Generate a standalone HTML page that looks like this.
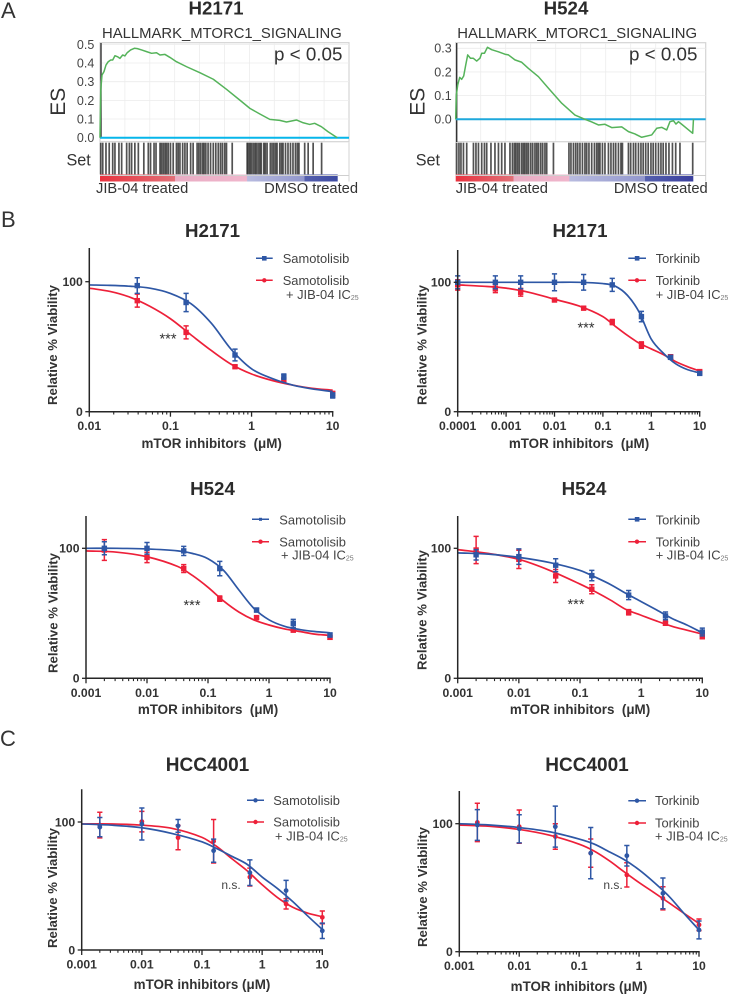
<!DOCTYPE html>
<html lang="en">
<head>
<meta charset="utf-8">
<title>mTOR inhibitor figure</title>
<style>
html,body{margin:0;padding:0;background:#fff;width:729px;height:994px;overflow:hidden}
svg{display:block;font-family:"Liberation Sans",Arial,sans-serif}
.panel-letter{font-size:22px;fill:#333}
.title{font-size:18.7px;font-weight:bold;fill:#2b2b2b;text-anchor:middle}
.geneset{font-size:14.85px;fill:#333}
.pval{font-size:18.8px;fill:#333}
.es{font-size:21px;fill:#333;text-anchor:middle}
.setl{font-size:16.2px;fill:#333}
.end{font-size:14.7px;fill:#333}
.xt{font-size:13.4px;font-weight:bold;fill:#333;text-anchor:middle}
.yt{font-size:13.2px;font-weight:bold;fill:#333;text-anchor:middle}
.leg{font-size:12.9px;fill:#444}
.sub{font-size:7px;fill:#777}
.star{font-size:14.5px;fill:#333;text-anchor:middle}
.ns{font-size:12px;fill:#444;text-anchor:middle}
</style>
</head>
<body>
<svg id="figure" xmlns="http://www.w3.org/2000/svg" width="729" height="994" viewBox="0 0 729 994">
<defs>
<linearGradient id="rankA1"><stop offset="0" stop-color="#e8323e"/><stop offset=".316" stop-color="#e27078"/><stop offset=".316" stop-color="#e9adc4"/><stop offset=".617" stop-color="#f0b6cc"/><stop offset=".62" stop-color="#b8bbdf"/><stop offset=".86" stop-color="#9297cd"/><stop offset=".86" stop-color="#5560ae"/><stop offset="1" stop-color="#3d4aa2"/></linearGradient>
<linearGradient id="rankA2"><stop offset="0" stop-color="#e8323e"/><stop offset=".243" stop-color="#e27078"/><stop offset=".243" stop-color="#e9adc4"/><stop offset=".477" stop-color="#f0b6cc"/><stop offset=".48" stop-color="#b8bbdf"/><stop offset=".797" stop-color="#9297cd"/><stop offset=".797" stop-color="#5560ae"/><stop offset="1" stop-color="#3a3f9e"/></linearGradient>
</defs>

<text class="panel-letter" x="1" y="18">A</text>
<text class="panel-letter" x="1" y="227">B</text>
<text class="panel-letter" x="0" y="746">C</text>

<!-- GSEA H2171 -->
<g id="gseaA1">
<text class="title" x="216" y="14.5">H2171</text>
<text class="geneset" x="102" y="38">HALLMARK_MTORC1_SIGNALING</text>
<text class="es" transform="translate(65,101.7) rotate(-90)">ES</text>
<text class="setl" x="66.5" y="165.7">Set</text>
<rect x="100" y="174.5" width="237.7" height="7" fill="url(#rankA1)"/>
<text class="end" x="96" y="193">JIB-04 treated</text>
<text class="end" x="358" y="193" text-anchor="end">DMSO treated</text>
</g>

<!-- GSEA H524 -->
<g id="gseaA2">
<text class="title" x="566" y="14.5">H524</text>
<text class="geneset" x="457.3" y="38">HALLMARK_MTORC1_SIGNALING</text>
<text class="es" transform="translate(424.3,101.7) rotate(-90)">ES</text>
<text class="setl" x="415.7" y="165.7">Set</text>
<rect x="455.7" y="174.5" width="237.6" height="7" fill="url(#rankA2)"/>
<text class="end" x="455.7" y="193">JIB-04 treated</text>
<text class="end" x="707.7" y="193" text-anchor="end">DMSO treated</text>
</g>

<!-- B1 -->
<g id="b1">
<text class="title" x="212.5" y="237">H2171</text>
<text class="yt" transform="translate(57,345) rotate(-90)">Relative % Viability</text>
<text class="xt" x="211.7" y="448" xml:space="preserve">mTOR inhibitors  (μM)</text>
<g>
<line x1="256" x2="272.7" y1="258.3" y2="258.3" stroke="#2e57a5" stroke-width="1.5"/>
<rect x="262" y="256" width="4.6" height="4.6" fill="#2e57a5"/>
<text class="leg" x="282.7" y="263">Samotolisib</text>
<line x1="256" x2="272.7" y1="280.3" y2="280.3" stroke="#ed2039" stroke-width="1.5"/>
<circle cx="264.3" cy="280.3" r="2.2" fill="#ed2039"/>
<text class="leg" x="282.7" y="285">Samotolisib</text>
<text class="leg" x="286" y="299">+ JIB-04 IC<tspan class="sub" dy="1">25</tspan></text>
</g>
<text class="star" x="168" y="343.5">***</text>
</g>

<!-- B2 -->
<g id="b2">
<text class="title" x="580" y="237">H2171</text>
<text class="yt" transform="translate(426.7,345) rotate(-90)">Relative % Viability</text>
<text class="xt" x="579" y="448" xml:space="preserve">mTOR inhibitors  (μM)</text>
<g>
<line x1="628.3" x2="646" y1="258.3" y2="258.3" stroke="#2e57a5" stroke-width="1.5"/>
<rect x="634.8" y="256" width="4.6" height="4.6" fill="#2e57a5"/>
<text class="leg" x="655.7" y="263">Torkinib</text>
<line x1="628.3" x2="646" y1="280.3" y2="280.3" stroke="#ed2039" stroke-width="1.5"/>
<circle cx="637" cy="280.3" r="2.2" fill="#ed2039"/>
<text class="leg" x="655.7" y="285">Torkinib</text>
<text class="leg" x="655.7" y="299">+ JIB-04 IC<tspan class="sub" dy="1">25</tspan></text>
</g>
<text class="star" x="586" y="332.5">***</text>
</g>

<!-- B3 -->
<g id="b3">
<text class="title" x="212.5" y="495">H524</text>
<text class="yt" transform="translate(57.3,613) rotate(-90)">Relative % Viability</text>
<text class="xt" x="208" y="714" xml:space="preserve">mTOR inhibitors  (μM)</text>
<g>
<line x1="252" x2="269" y1="519.3" y2="519.3" stroke="#2e57a5" stroke-width="1.5"/>
<rect x="259" y="517.8" width="3" height="3" fill="#2e57a5"/>
<text class="leg" x="279.3" y="524.3">Samotolisib</text>
<line x1="252" x2="269" y1="541.7" y2="541.7" stroke="#ed2039" stroke-width="1.5"/>
<circle cx="260.5" cy="541.7" r="2.2" fill="#ed2039"/>
<text class="leg" x="279.3" y="546.3">Samotolisib</text>
<text class="leg" x="281" y="559.3">+ JIB-04 IC<tspan class="sub" dy="1">25</tspan></text>
</g>
<text class="star" x="192" y="610">***</text>
</g>

<!-- B4 -->
<g id="b4">
<text class="title" x="584" y="495">H524</text>
<text class="yt" transform="translate(426.7,610) rotate(-90)">Relative % Viability</text>
<text class="xt" x="580" y="714" xml:space="preserve">mTOR inhibitors  (μM)</text>
<g>
<line x1="628.3" x2="646" y1="519.3" y2="519.3" stroke="#2e57a5" stroke-width="1.5"/>
<rect x="634.8" y="517" width="4.6" height="4.6" fill="#2e57a5"/>
<text class="leg" x="655.7" y="524.3">Torkinib</text>
<line x1="628.3" x2="646" y1="541.7" y2="541.7" stroke="#ed2039" stroke-width="1.5"/>
<circle cx="637" cy="541.7" r="2.2" fill="#ed2039"/>
<text class="leg" x="655.7" y="546.3">Torkinib</text>
<text class="leg" x="655.7" y="559.3">+ JIB-04 IC<tspan class="sub" dy="1">25</tspan></text>
</g>
<text class="star" x="576" y="609">***</text>
</g>

<!-- C1 -->
<g id="c1">
<text class="title" x="207.5" y="771" style="font-size:19px">HCC4001</text>
<text class="yt" transform="translate(57,888) rotate(-90)">Relative % Viability</text>
<text class="xt" x="202" y="989">mTOR inhibitors (μM)</text>
<g>
<line x1="247" x2="264" y1="800.3" y2="800.3" stroke="#2e57a5" stroke-width="1.5"/>
<circle cx="255.5" cy="800.3" r="2.2" fill="#2e57a5"/>
<text class="leg" x="273.3" y="805">Samotolisib</text>
<line x1="247" x2="264" y1="822" y2="822" stroke="#ed2039" stroke-width="1.5"/>
<circle cx="255.5" cy="822" r="2.2" fill="#ed2039"/>
<text class="leg" x="273.3" y="826.7">Samotolisib</text>
<text class="leg" x="275" y="840.7">+ JIB-04 IC<tspan class="sub" dy="1">25</tspan></text>
</g>
<text class="ns" x="231" y="889">n.s.</text>
</g>

<!-- C2 -->
<g id="c2">
<text class="title" x="587" y="771" style="font-size:19px">HCC4001</text>
<text class="yt" transform="translate(427,887) rotate(-90)">Relative % Viability</text>
<text class="xt" x="579" y="991">mTOR inhibitors (μM)</text>
<g>
<line x1="628.3" x2="646" y1="800.7" y2="800.7" stroke="#2e57a5" stroke-width="1.5"/>
<circle cx="637" cy="800.7" r="2.2" fill="#2e57a5"/>
<text class="leg" x="655" y="805">Torkinib</text>
<line x1="628.3" x2="646" y1="823" y2="823" stroke="#ed2039" stroke-width="1.5"/>
<circle cx="637" cy="823" r="2.2" fill="#ed2039"/>
<text class="leg" x="655" y="827.7">Torkinib</text>
<text class="leg" x="655" y="840.7">+ JIB-04 IC<tspan class="sub" dy="1">25</tspan></text>
</g>
<text class="ns" x="613" y="889">n.s.</text>
</g>
</svg>

<script>
/* ---------- GSEA data ---------- */
var a1EsTicks = [0, 0.1, 0.2, 0.3, 0.4, 0.5];
var a1EsRanks = [0,0.3,0.8,1.6,2.4,3.3,4.3,5.1,6,7,8,9.1,10,10.9,12.3,13.8,15,16.7,18.7,20.7,22.7,24.1,26.1,28.1,30.7,34.8,40.1,45.5,50.8,56.1,60.2,64.2,68.2,72.2,74.9,78.9,81.6,84.2,86.2,88.9,91.6,95.3];
var a1EsValues = [0,0.255,0.336,0.354,0.389,0.407,0.416,0.416,0.439,0.434,0.425,0.443,0.438,0.455,0.470,0.479,0.477,0.470,0.461,0.452,0.455,0.443,0.446,0.430,0.407,0.380,0.348,0.313,0.259,0.202,0.157,0.127,0.098,0.093,0.084,0.095,0.080,0.071,0.077,0.059,0.032,0];
var a1Hits = [0.3,1.1,2.4,3.7,5.1,6,7.6,8.7,10.7,11.8,12.7,14,15.4,17.6,19.4,20.3,21.7,22.5,24.1,24.7,25.4,26.1,26.7,27.4,28.3,29.4,30.7,31.4,32.1,33.2,34.1,35,36.4,37.4,39,39.7,40.4,41.2,41.8,42.5,43.4,44.4,45.5,46.5,47.5,48.4,49.2,50.1,50.8,53.1,59.1,59.6,60.2,60.8,61.5,62.2,62.8,63.5,64.2,64.8,65.8,66.4,67.1,68.4,69.1,69.8,70.5,71.1,72.2,72.9,73.5,74.5,75.5,76.5,77.5,78.5,79.3,79.9,82.2,83.6,85.6,89];

var a2EsTicks = [0, 0.1, 0.2, 0.3];
var a2EsRanks = [0,0.27,0.8,1.6,2.4,3.2,4,4.8,5.9,7,8.4,9.7,10.4,11.5,12.7,14.4,17.1,19.7,21.1,23.7,26.4,29.1,33.1,37.1,42.4,47.7,51.7,54.4,57.1,59.7,62.4,66.4,69.1,71.7,74.4,78.4,80.4,82.4,84.4,85.7,87.1,88.1,89.1,90.4,94.8,95.1];
var a2EsValues = [0,0.103,0.145,0.177,0.169,0.183,0.229,0.272,0.258,0.258,0.246,0.258,0.279,0.279,0.304,0.294,0.285,0.275,0.272,0.251,0.241,0.215,0.180,0.131,0.068,0.018,0,-0.011,-0.024,-0.021,-0.035,-0.032,-0.052,-0.062,-0.076,-0.066,-0.038,-0.034,-0.045,-0.010,-0.006,-0.020,-0.010,-0.021,-0.059,0];
var a2Hits = [0.4,1.3,2.1,3.1,4.4,7.1,8.1,9.1,10.4,11.5,12.4,14.1,15.7,17.1,18.4,19.7,21.7,22.7,23.5,24.1,24.8,25.5,26.4,27.1,27.7,28.4,29.1,30,30.8,31.7,32.4,33.1,34,34.8,35.7,36.4,39.1,45.3,46.1,47.1,48,48.8,49.7,50.7,51.7,52.4,53.3,54.4,55.5,56.4,57.1,57.7,58.7,59.7,61.1,62.1,63.1,64,65.1,66.1,66.7,69.1,70,71.1,72,73.1,74.1,75,76,77,78.1,79,80,81.1,82.1,83,84.1,85.3,86.7,88,89.7,94.8];

/* ---------- Dose-response data: B1 H2171 samotolisib ---------- */
var b1XTicks = [0.01, 0.1, 1, 10];
var b1XLabels = ['0.01', '0.1', '1', '10'];
var b1Doses = [0.039, 0.156, 0.625, 2.5, 10];
var b1BlueMeans = [97, 84, 43.6, 27, 12.5];
var b1BlueErrs = [6, 7, 4.5, 2, 2];
var b1RedMeans = [85.4, 61, 34.6, 24.5, 14];
var b1RedErrs = [5, 5, 1, 1, 1.5];
var b1CurveDoses = [0.01,0.018,0.032,0.056,0.1,0.18,0.32,0.56,1,1.8,3.2,5.6,10];
var b1BlueCurve = [97.5,97.2,96.5,95,91,83,68,48,33,25.5,20.5,17.5,15.5];
var b1RedCurve = [95,92.5,88,81,71.5,59,47,36.5,29,24,20.5,18,16.5];

/* B2 H2171 torkinib */
var b2XTicks = [0.0001, 0.001, 0.01, 0.1, 1, 10];
var b2XLabels = ['0.0001', '0.001', '0.01', '0.1', '1', '10'];
var b2Doses = [0.0001, 0.0006, 0.002, 0.01, 0.04, 0.156, 0.625, 2.5, 10];
var b2BlueMeans = [100, 100, 100, 100, 100, 98, 73.5, 42, 29.6];
var b2BlueErrs = [5, 5, 5, 6.5, 6, 5, 4, 1.5, 1];
var b2RedMeans = [98, 95, 92.3, 86.3, 80, 69.3, 51.5, 42.5, 31];
var b2RedErrs = [4, 3, 3, 1, 0.8, 2, 2.5, 1.5, 1];
var b2CurveDoses = [0.0001,0.00032,0.001,0.0032,0.01,0.032,0.1,0.18,0.32,0.56,1,1.8,3.2,5.6,10];
var b2BlueCurve = [100,100,100,100,100,100,99,97,90,77,56,45,37,32.5,30];
var b2RedCurve = [98,97,95.5,92,86.9,81.7,73.5,66,59,53,48.5,44,38.7,34.8,31.4];

/* B3 H524 samotolisib */
var b3XTicks = [0.001, 0.01, 0.1, 1, 10];
var b3XLabels = ['0.001', '0.01', '0.1', '1', '10'];
var b3Doses = [0.002, 0.01, 0.04, 0.156, 0.625, 2.5, 10];
var b3BlueMeans = [100, 100, 98, 84.4, 52.5, 42.3, 33.3];
var b3BlueErrs = [5, 4.5, 3.5, 5.5, 1.5, 3, 1.5];
var b3RedMeans = [98.7, 93, 84.4, 61.3, 46.7, 37, 31.5];
var b3RedErrs = [8, 4, 3, 2, 1, 1, 1.5];
var b3CurveDoses = [0.001,0.0032,0.01,0.032,0.056,0.1,0.18,0.32,0.56,1,1.8,3.2,5.6,10];
var b3BlueCurve = [100,100,99.5,98,96,92,83,68,54,45,40,37.5,36,35];
var b3RedCurve = [98,97,93.5,86,79,70,59.5,51,45,41,38,36,34,33];

/* B4 H524 torkinib */
var b4XTicks = [0.001, 0.01, 0.1, 1, 10];
var b4XLabels = ['0.001', '0.01', '0.1', '1', '10'];
var b4Doses = [0.002, 0.01, 0.04, 0.156, 0.625, 2.5, 10];
var b4BlueMeans = [95, 93.6, 87, 79, 64, 48, 35.6];
var b4BlueErrs = [4, 6, 5, 4, 3.5, 3, 3];
var b4RedMeans = [98.7, 91.5, 78.7, 68.5, 50.8, 42.3, 32];
var b4RedErrs = [10.5, 7, 5, 3.5, 2, 1.5, 1.5];
var b4CurveDoses = [0.001,0.0032,0.01,0.032,0.1,0.18,0.32,0.56,1,1.8,3.2,5.6,10];
var b4BlueCurve = [96.5,95.5,93,89,83,77.7,72,65.4,59,52.5,46,41,35];
var b4RedCurve = [99,96,91.5,83,72.5,66.5,60,53,48.5,44,40,37,34];

/* C1 HCC4001 samotolisib */
var c1XTicks = [0.001, 0.01, 0.1, 1, 10];
var c1XLabels = ['0.001', '0.01', '0.1', '1', '10'];
var c1Doses = [0.002, 0.01, 0.04, 0.156, 0.625, 2.5, 10];
var c1BlueMeans = [96, 98.4, 97, 77.6, 60.4, 46.4, 15];
var c1BlueErrs = [7.5, 12.5, 5, 9, 10, 8, 6];
var c1RedMeans = [97.6, 100.3, 87.8, 85, 57, 36, 25.5];
var c1RedErrs = [10, 8, 9.5, 17, 7, 4, 5];
var c1CurveDoses = [0.001,0.0032,0.01,0.032,0.1,0.18,0.32,0.56,1,1.8,3.2,5.6,10];
var c1BlueCurve = [98.5,97.5,95.5,91,84.5,79,73,67,57,48,38,27,16];
var c1RedCurve = [98.5,98.5,97.5,95,88,80.5,71,62,51,41,33.5,29,26];

/* C2 HCC4001 torkinib */
var c2XTicks = [0.001, 0.01, 0.1, 1, 10];
var c2XLabels = ['0.001', '0.01', '0.1', '1', '10'];
var c2Doses = [0.002, 0.01, 0.04, 0.156, 0.625, 2.5, 10];
var c2BlueMeans = [99, 96, 97.7, 77, 75, 45.6, 17];
var c2BlueErrs = [12, 11, 16, 20, 8, 12, 7];
var c2RedMeans = [101, 97.7, 90, 77, 60, 41.7, 21];
var c2RedErrs = [15, 13, 10, 11, 9.5, 9, 4.5];
var c2CurveDoses = [0.001,0.0032,0.01,0.032,0.1,0.18,0.32,0.56,1,1.8,3.2,5.6,10];
var c2BlueCurve = [100,99,97,93.7,88,84,78,72,64,54,43,30,17];
var c2RedCurve = [99,98,95.5,91,84,78.5,71,62.5,54,46,38,30,22];

var yTickValues = [0, 100];
var yTickLabels = ['0', '100'];

/* ---------- helpers ---------- */
var NS = 'http://www.w3.org/2000/svg';
var BLUE = '#2e57a5', RED = '#ed2039', AXIS = '#262626';

function svgEl(tag, parent, attrs) {
  var el = document.createElementNS(NS, tag);
  for (var k in attrs) el.setAttribute(k, attrs[k]);
  parent.appendChild(el);
  return el;
}

/* smooth cubic path through pixel points, central-difference tangents */
function smoothPath(xs, ys) {
  var n = xs.length, m = [], i;
  m.push((ys[1] - ys[0]) / (xs[1] - xs[0]));
  for (i = 1; i < n - 1; i++) m.push((ys[i + 1] - ys[i - 1]) / (xs[i + 1] - xs[i - 1]));
  m.push((ys[n - 1] - ys[n - 2]) / (xs[n - 1] - xs[n - 2]));
  var p = 'M' + xs[0].toFixed(2) + ' ' + ys[0].toFixed(2);
  for (i = 0; i < n - 1; i++) {
    var h = (xs[i + 1] - xs[i]) / 3;
    p += 'C' + (xs[i] + h).toFixed(2) + ' ' + (ys[i] + m[i] * h).toFixed(2) + ' ' +
         (xs[i + 1] - h).toFixed(2) + ' ' + (ys[i + 1] - m[i + 1] * h).toFixed(2) + ' ' +
         xs[i + 1].toFixed(2) + ' ' + ys[i + 1].toFixed(2);
  }
  return p;
}

function drawSeries(g, cfg, xScale, yScale, doses, means, errs, curveDoses, curve, color) {
  var path = svgEl('path', g, {d: smoothPath(curveDoses.map(xScale), curve.map(yScale)), fill: 'none', stroke: color, 'stroke-width': 1.7});
  
  
  doses.forEach(function (dose, i) {
    var x = xScale(dose), y = yScale(means[i]), hi = yScale(means[i] + errs[i]), lo = yScale(means[i] - errs[i]);
    var bar = svgEl('path', g, {d: 'M' + x + ' ' + hi + 'V' + lo + 'M' + (x - 2.6) + ' ' + hi + 'h5.2M' + (x - 2.6) + ' ' + lo + 'h5.2', fill: 'none', stroke: color, 'stroke-width': 1.5});
    
    
    var mark;
    if (cfg.round) {
      mark = svgEl('circle', g, {cx: x, cy: y, r: 2.4, fill: color});
    } else {
      mark = svgEl('rect', g, {x: x - 2.7, y: y - 2.7, width: 5.4, height: 5.4, fill: color});
    }
    
    
  });
}

function drawDose(cfg) {
  var g = document.getElementById(cfg.id);
  var lmin = Math.log10(cfg.xTicks[0]), lmax = Math.log10(cfg.xTicks[cfg.xTicks.length - 1]);
  var xScale = function (v) { return cfg.x0 + (Math.log10(v) - lmin) / (lmax - lmin) * (cfg.x1 - cfg.x0); };
  var yScale = function (v) { return cfg.y0 - v / 100 * (cfg.y0 - cfg.y100); };

  drawSeries(g, cfg, xScale, yScale, cfg.doses, cfg.redMeans, cfg.redErrs, cfg.curveDoses, cfg.redCurve, RED);
  drawSeries(g, cfg, xScale, yScale, cfg.doses, cfg.blueMeans, cfg.blueErrs, cfg.curveDoses, cfg.blueCurve, BLUE);

  var xAxis = svgEl('line', g, {x1: cfg.x0 - 0.7, x2: cfg.x1 + 0.7, y1: cfg.y0, y2: cfg.y0, stroke: AXIS, 'stroke-width': 1.5});
  
  
  var yAxis = svgEl('line', g, {x1: cfg.x0, x2: cfg.x0, y1: cfg.top, y2: cfg.y0 + 0.7, stroke: AXIS, 'stroke-width': 1.5});
  
  

  cfg.xTicks.forEach(function (t, i) {
    var x = xScale(t);
    var tick = svgEl('line', g, {x1: x, x2: x, y1: cfg.y0, y2: cfg.y0 + 5, stroke: AXIS, 'stroke-width': 1.3});
    
    
    var label = svgEl('text', g, {x: x, y: cfg.y0 + 18.5, 'text-anchor': 'middle', 'font-size': 12.2, 'font-weight': 'bold', fill: '#333'});
    label.textContent = cfg.xLabels[i];
    
    
    if (i < cfg.xTicks.length - 1) {
      for (var m = 2; m < 10; m++) {
        var mx = xScale(t * m);
        var minor = svgEl('line', g, {x1: mx, x2: mx, y1: cfg.y0, y2: cfg.y0 + 2.8, stroke: AXIS, 'stroke-width': 1.1});
        
        
      }
    }
  });
  yTickValues.forEach(function (t, i) {
    var y = yScale(t);
    var tick = svgEl('line', g, {x1: cfg.x0 - 4, x2: cfg.x0, y1: y, y2: y, stroke: AXIS, 'stroke-width': 1.3});
    
    
    var label = svgEl('text', g, {x: cfg.x0 - 6.5, y: y + 4.3, 'text-anchor': 'end', 'font-size': 12.2, 'font-weight': 'bold', fill: '#333'});
    label.textContent = yTickLabels[i];
    
    
  });
}

function drawEs(cfg) {
  var g = document.getElementById(cfg.id);
  var xScale = function (p) { return cfg.x0 + p / 100 * (cfg.x1 - cfg.x0); };
  var yScale = function (v) { return cfg.yZero - v * cfg.pxPerUnit; };
  var i;

  var box = svgEl('rect', g, {x: cfg.x0, y: 42.7, width: cfg.x1 - cfg.x0, height: 99, fill: 'none', stroke: '#d4d4d4', 'stroke-width': 1.2});
  
  

  for (i = 1; i < 10; i++) {
    var gx = xScale(i * 10);
    var vg = svgEl('line', g, {x1: gx, x2: gx, y1: 43, y2: 141, stroke: '#ececec', 'stroke-width': 0.8});
    
    
  }
  cfg.ticks.forEach(function (t) {
    var y = yScale(t);
    var hg = svgEl('line', g, {x1: cfg.x0, x2: cfg.x1, y1: y, y2: y, stroke: '#ececec', 'stroke-width': 0.8});
    
    
    var lab = svgEl('text', g, {x: cfg.labelX, y: y + 4.4, 'text-anchor': 'end', 'font-size': 12.5, fill: '#444'});
    lab.textContent = t.toFixed(1);
    
    
  });

  var axis = svgEl('line', g, {x1: cfg.x0 + 1, x2: cfg.x0 + 1, y1: 43, y2: cfg.axisBottom, stroke: '#333', 'stroke-width': 1.4});
  
  

  var zero = svgEl('line', g, {x1: cfg.x0, x2: cfg.x1, y1: cfg.yZero, y2: cfg.yZero, stroke: cfg.zeroColor, 'stroke-width': 2});
  
  

  var pts = cfg.ranks.map(function (r, j) { return xScale(r).toFixed(2) + ',' + yScale(cfg.values[j]).toFixed(2); }).join(' ');
  var es = svgEl('polyline', g, {points: pts, fill: 'none', stroke: '#55b35a', 'stroke-width': 1.5, 'stroke-linejoin': 'round'});
  
  

  var pv = svgEl('text', g, {x: cfg.pX, y: 60.7, 'font-size': 18.8, fill: '#333'});
  pv.textContent = 'p < 0.05';
  
  

  var frame = svgEl('path', g, {d: 'M' + cfg.x0 + ' 142.5V174.5M' + cfg.x1 + ' 142.5V181.5M' + cfg.x0 + ' 175.5H' + cfg.x1, fill: 'none', stroke: '#cfcfcf', 'stroke-width': 0.9});
  
  

  cfg.hits.forEach(function (h) {
    var hx = xScale(h);
    var hit = svgEl('line', g, {x1: hx, x2: hx, y1: 142.7, y2: 174.3, stroke: '#000', 'stroke-width': 1.7, 'stroke-opacity': 0.68});
    
    
  });
}

/* ---------- render ---------- */
drawEs({id: 'gseaA1', x0: 100, x1: 349, yZero: 137.7, pxPerUnit: 186.7, labelX: 94.3, axisBottom: 138, zeroColor: '#06b6ea', pX: 274, ticks: a1EsTicks, ranks: a1EsRanks, values: a1EsValues, hits: a1Hits});
drawEs({id: 'gseaA2', x0: 455.7, x1: 705.7, yZero: 119.3, pxPerUnit: 236.7, labelX: 451.7, axisBottom: 142, zeroColor: '#1ea8dc', pX: 629, ticks: a2EsTicks, ranks: a2EsRanks, values: a2EsValues, hits: a2Hits});

drawDose({id: 'b1', x0: 89.3, x1: 332.7, y0: 411.7, y100: 281.7, top: 248, round: false, xTicks: b1XTicks, xLabels: b1XLabels, doses: b1Doses, blueMeans: b1BlueMeans, blueErrs: b1BlueErrs, redMeans: b1RedMeans, redErrs: b1RedErrs, curveDoses: b1CurveDoses, blueCurve: b1BlueCurve, redCurve: b1RedCurve});
drawDose({id: 'b2', x0: 457.7, x1: 699.7, y0: 411.7, y100: 282.3, top: 250, round: false, xTicks: b2XTicks, xLabels: b2XLabels, doses: b2Doses, blueMeans: b2BlueMeans, blueErrs: b2BlueErrs, redMeans: b2RedMeans, redErrs: b2RedErrs, curveDoses: b2CurveDoses, blueCurve: b2BlueCurve, redCurve: b2RedCurve});
drawDose({id: 'b3', x0: 86, x1: 330, y0: 678.3, y100: 548.3, top: 516, round: false, xTicks: b3XTicks, xLabels: b3XLabels, doses: b3Doses, blueMeans: b3BlueMeans, blueErrs: b3BlueErrs, redMeans: b3RedMeans, redErrs: b3RedErrs, curveDoses: b3CurveDoses, blueCurve: b3BlueCurve, redCurve: b3RedCurve});
drawDose({id: 'b4', x0: 457.7, x1: 702.3, y0: 678.3, y100: 548.3, top: 516, round: false, xTicks: b4XTicks, xLabels: b4XLabels, doses: b4Doses, blueMeans: b4BlueMeans, blueErrs: b4BlueErrs, redMeans: b4RedMeans, redErrs: b4RedErrs, curveDoses: b4CurveDoses, blueCurve: b4BlueCurve, redCurve: b4RedCurve});
drawDose({id: 'c1', x0: 81.7, x1: 322.3, y0: 950, y100: 822, top: 789.3, round: true, xTicks: c1XTicks, xLabels: c1XLabels, doses: c1Doses, blueMeans: c1BlueMeans, blueErrs: c1BlueErrs, redMeans: c1RedMeans, redErrs: c1RedErrs, curveDoses: c1CurveDoses, blueCurve: c1BlueCurve, redCurve: c1RedCurve});
drawDose({id: 'c2', x0: 459.3, x1: 699, y0: 951.7, y100: 823.7, top: 791, round: true, xTicks: c2XTicks, xLabels: c2XLabels, doses: c2Doses, blueMeans: c2BlueMeans, blueErrs: c2BlueErrs, redMeans: c2RedMeans, redErrs: c2RedErrs, curveDoses: c2CurveDoses, blueCurve: c2BlueCurve, redCurve: c2RedCurve});
</script>
</body>
</html>
